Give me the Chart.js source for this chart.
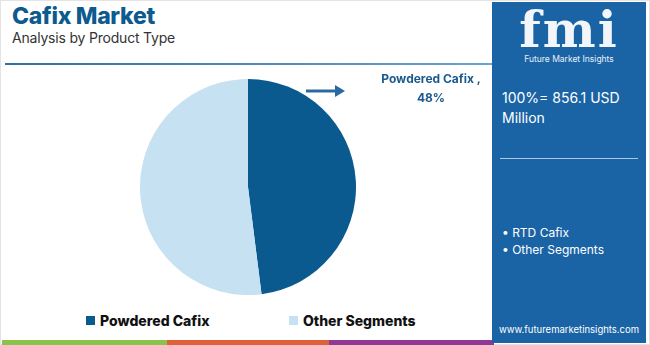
<!DOCTYPE html>
<html>
<head>
<meta charset="utf-8">
<script src="https://cdn.jsdelivr.net/npm/chart.js@4.4.1/dist/chart.umd.min.js"></script>
<style>
  html, body { margin: 0; padding: 0; }
  body { width: 650px; height: 345px; position: relative; background: #fff; font-family: 'Inter', 'Open Sans', sans-serif; overflow: hidden; }
  .frame { position: absolute; left: 0; top: 0; width: 648px; height: 343px; border: 1px solid #e4e4e4; }
  .title { position: absolute; left: 12px; top: 2px; font-size: 23px; font-weight: 800; color: #0d5a8e; letter-spacing: -0.3px; }
  .subtitle { position: absolute; left: 12px; top: 29px; font-size: 14px; color: #333; letter-spacing: -0.2px; }
  .rule { position: absolute; left: 5px; top: 63px; width: 488px; height: 2px; background: linear-gradient(to right, #2f6fa6, #6aa3cf); }
  #wrap { position: absolute; left: 140px; top: 79px; width: 216px; height: 216px; }
  .callout { position: absolute; left: 377px; top: 69px; width: 108px; text-align: center; font-size: 12px; font-weight: 700; color: #1b5a8c; line-height: 19px; }
  .arrow { position: absolute; left: 305px; top: 83px; }
  #legend { position: absolute; left: 0; top: 312px; width: 490px; height: 22px; }
  .li { position: absolute; top: 0; display: flex; align-items: center; font-size: 14px; font-weight: 800; color: #111; }
  .li span.box { width: 9px; height: 9px; margin-right: 5px; display: inline-block; }
  .stripe { position: absolute; top: 340px; height: 5px; }
  .panel { position: absolute; left: 492px; top: 2px; width: 154px; height: 341px; background: #1a64a6; color: #fff; }
  .logo { position: absolute; left: 0; top: 2px; width: 154px; text-align: center; font-family: 'DejaVu Serif', serif; font-size: 50px; font-weight: 700; letter-spacing: 2px; line-height: 52px; color: #f2f6fa; }
  .logo-sub { position: absolute; left: 0; top: 52px; width: 154px; text-align: center; font-size: 8.5px; color: #e8f0f8; }
  .total { position: absolute; left: 10px; top: 86px; font-size: 14px; line-height: 20px; }
  .sep { position: absolute; left: 8px; top: 156px; width: 138px; height: 1px; background: #a9c9e6; }
  .bul { position: absolute; left: 10px; top: 222px; font-size: 12px; line-height: 17px; }
  .url { position: absolute; left: 0; top: 322px; width: 154px; text-align: center; font-size: 9.5px; }
</style>
</head>
<body>
<div class="frame"></div>
<div class="title">Cafix Market</div>
<div class="subtitle">Analysis by Product Type</div>
<div class="rule"></div>

<div id="wrap"><canvas id="myChart"></canvas></div>

<svg class="arrow" width="42" height="16">
  <line x1="1" y1="8" x2="32" y2="8" stroke="#2b6aa0" stroke-width="3"/>
  <polygon points="30,2 40,8 30,14" fill="#2b6aa0"/>
</svg>
<div class="callout" id="callout"></div>

<div id="legend"></div>

<div class="stripe" style="left:2px;width:165px;background:#8bc34a"></div>
<div class="stripe" style="left:167px;width:162px;background:#e0603a"></div>
<div class="stripe" style="left:329px;width:165px;background:#8e3a92"></div>

<div class="panel">
  <div class="logo">fmi</div>
  <div class="logo-sub">Future Market Insights</div>
  <div class="total">100%= 856.1 USD<br>Million</div>
  <div class="sep"></div>
  <div class="bul">• RTD Cafix<br>• Other Segments</div>
  <div class="url">www.futuremarketinsights.com</div>
</div>

<script>
const categories = ['Powdered Cafix', 'Other Segments'];
const shares = [48, 52];
const colors = ['#0b5a8f', '#c6e2f2'];

const data = {
  labels: categories,
  datasets: [{
    data: shares,
    backgroundColor: colors,
    borderWidth: 0
  }]
};

const config = {
  type: 'pie',
  data: data,
  options: {
    responsive: true,
    maintainAspectRatio: false,
    animation: false,
    layout: { padding: 0 },
    plugins: {
      legend: { display: false },
      tooltip: { enabled: false }
    }
  }
};

const myChart = new Chart(document.getElementById('myChart'), config);

// callout for first slice
document.getElementById('callout').innerHTML = categories[0] + ' ,<br>' + shares[0] + '%';

// legend built from the same arrays
const legendX = [86, 289];
const legend = document.getElementById('legend');
categories.forEach(function (c, i) {
  const item = document.createElement('div');
  item.className = 'li';
  item.style.left = legendX[i] + 'px';
  item.innerHTML = '<span class="box" style="background:' + colors[i] + '"></span>' + c;
  legend.appendChild(item);
});
</script>
</body>
</html>
